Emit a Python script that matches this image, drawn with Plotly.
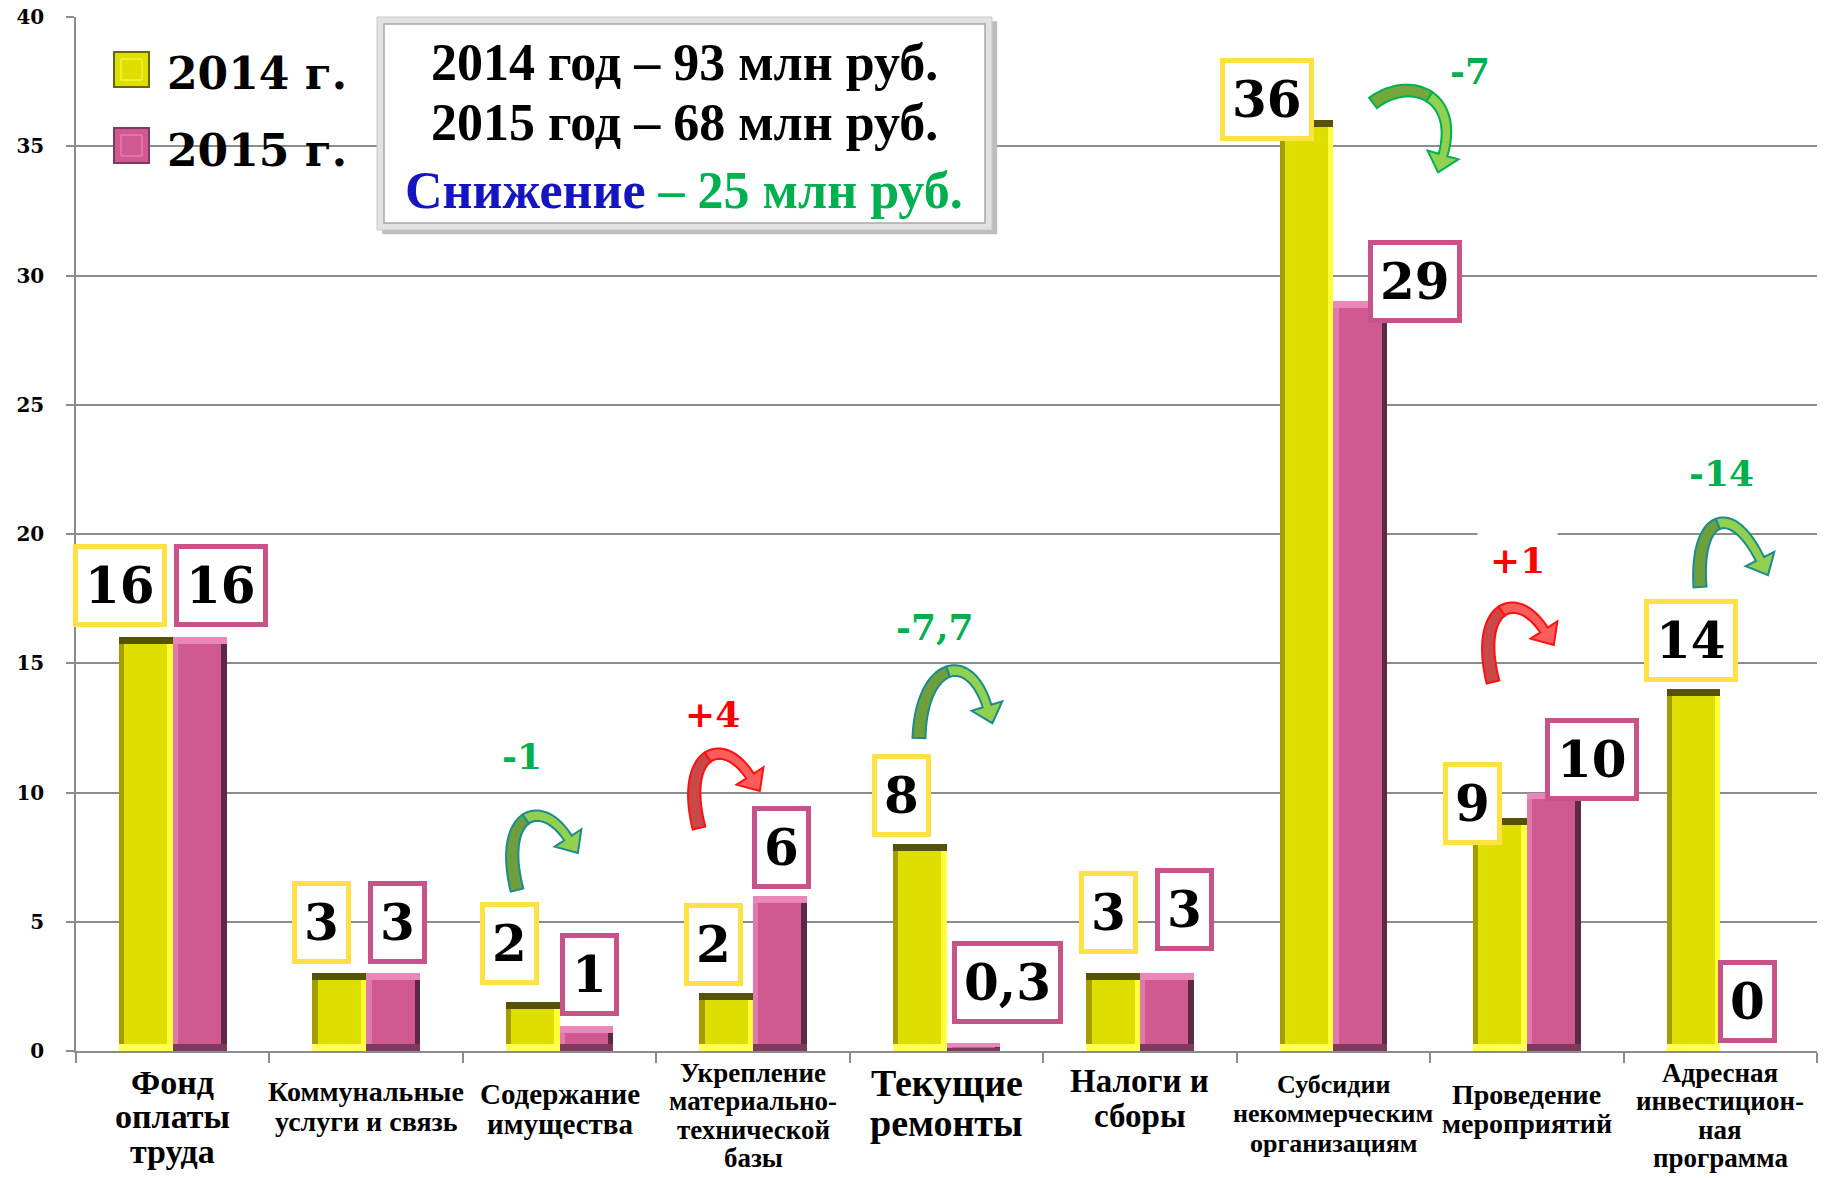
import numpy as np
import plotly.graph_objects as go

# ---------------- data ----------------
categories = ["Фонд оплаты труда", "Коммунальные услуги и связь", "Содержание имущества",
              "Укрепление материально-технической базы", "Текущие ремонты", "Налоги и сборы",
              "Субсидии некоммерческим организациям", "Проведение мероприятий",
              "Адресная инвестиционная программа"]
category_lines = [["Фонд", "оплаты", "труда"], ["Коммунальные", "услуги и связь"],
                  ["Содержание", "имущества"], ["Укрепление", "материально-", "технической", "базы"],
                  ["Текущие", "ремонты"], ["Налоги и", "сборы"],
                  ["Субсидии", "некоммерческим", "организациям"], ["Проведение", "мероприятий"],
                  ["Адресная", "инвестицион-", "ная", "программа"]]
values_2014 = [16, 3, 1.9, 2.25, 8, 3, 36, 9, 14]
values_2015 = [16, 3, 0.95, 6, 0.3, 3, 29, 10, 0]
labels_2014 = ["16", "3", "2", "2", "8", "3", "36", "9", "14"]
labels_2015 = ["16", "3", "1", "6", "0,3", "3", "29", "10", "0"]
changes = ["", "", "-1", "+4", "-7,7", "", "-7", "+1", "-14"]
change_up = [False, False, False, True, False, False, False, True, False]
series_names = ["2014 г.", "2015 г."]
summary_lines = ["2014 год – 93 млн руб.", "2015 год – 68 млн руб."]
summary_drop = ["Снижение", " – 25 млн руб."]
y_ticks = [0, 5, 10, 15, 20, 25, 30, 35, 40]

# ---------------- styles / layout helpers ----------------
W, H = 1830, 1178
ML, MR, MT, MB = 76, 13, 17, 127
PW, PH = W - ML - MR, H - MT - MB
YEL, YEL_L, YEL_R, YEL_T, YEL_B = "#dede00", "#a39d00", "#ffff3c", "#55520a", "#ffff55"
PNK, PNK_L, PNK_R, PNK_T, PNK_B = "#d0598f", "#e07aae", "#5c2a44", "#ea86ba", "#7d3a5c"
GRID = "#8c8c8c"
label_sizes = [34, 28, 29, 27, 38, 33, 26, 28, 27]
label_first_y = [1082, 1091, 1094, 1073, 1083, 1081, 1084, 1094, 1073]
label_step = [34.5, 30.3, 30.3, 28.3, 39.7, 35, 29.8, 29.2, 28.3]
lab_dx_2014 = [-26, -18, -23, -13, -18, -5, -40, -27, -2]
lab_gap_2014 = [10, 9, 17, 7, 7, 19, -21, -27, 7]
lab_dx_2015 = [21, 4, 3, 2, 34, 18, 55, 38, 0]
lab_gap_2015 = [10, 9, 10, 7, 19, 22, -22, -8, 8]
change_pos = {2: (522, 756), 3: (712, 714), 4: (935, 627), 6: (1470, 71), 7: (1517, 560), 8: (1721, 473)}
# arrow bezier control points (pixels) per change
arrow_ctrl = {
    2: [(517, 890), (498, 815), (540, 795), (568, 838)],
    3: [(699, 828), (680, 753), (722, 733), (750, 776)],
    4: [(919, 738), (921, 663), (969, 648), (987, 706)],
    6: [(1373, 103), (1410, 75), (1460, 95), (1443, 155)],
    7: [(1493, 682), (1474, 607), (1516, 587), (1544, 630)],
    8: [(1700, 587), (1695, 517), (1730, 499), (1760, 559)],
}


def pp(X, Y):
    return (X - ML) / PW, (H - MB - Y) / PH


xs = list(range(len(categories)))
BW = 0.278
E = 0.028
TB = 0.27

fig = go.Figure()


def add_bar_set(vals, off, face, left, right, top, bottom):
    common = dict(x=categories, hoverinfo="skip", showlegend=False)
    fig.add_trace(go.Bar(y=vals, width=BW, offset=off, marker=dict(color=face, line=dict(width=0)), **common))
    fig.add_trace(go.Bar(y=vals, width=E, offset=off, marker=dict(color=left, line=dict(width=0)), **common))
    fig.add_trace(go.Bar(y=vals, width=E, offset=off + BW - E, marker=dict(color=right, line=dict(width=0)), **common))
    tb = [min(TB, v * 0.45) for v in vals]
    fig.add_trace(go.Bar(y=tb, base=[v - t for v, t in zip(vals, tb)], width=BW, offset=off,
                         marker=dict(color=top, line=dict(width=0)), **common))
    fig.add_trace(go.Bar(y=tb, base=[0] * len(vals), width=BW, offset=off,
                         marker=dict(color=bottom, line=dict(width=0)), **common))


add_bar_set(values_2014, -BW, YEL, YEL_L, YEL_R, YEL_T, YEL_B)
add_bar_set(values_2015, 0.0, PNK, PNK_L, PNK_R, PNK_T, PNK_B)

annotations = []
# value label boxes
for i in xs:
    annotations.append(dict(x=i - BW / 2, y=values_2014[i], xref="x", yref="y", text=labels_2014[i],
                            showarrow=False, yanchor="bottom", xanchor="center",
                            xshift=lab_dx_2014[i], yshift=lab_gap_2014[i],
                            font=dict(family="DejaVu Serif", size=50, color="black", weight="bold"),
                            bgcolor="white", bordercolor="#ffe045", borderwidth=5, borderpad=7))
    annotations.append(dict(x=i + BW / 2, y=values_2015[i], xref="x", yref="y", text=labels_2015[i],
                            showarrow=False, yanchor="bottom", xanchor="center",
                            xshift=lab_dx_2015[i], yshift=lab_gap_2015[i],
                            font=dict(family="DejaVu Serif", size=50, color="black", weight="bold"),
                            bgcolor="white", bordercolor="#c8528a", borderwidth=5, borderpad=7))

# category labels (one annotation per line, under the axis)
for i, lines in enumerate(category_lines):
    for j, ln in enumerate(lines):
        _, yy = pp(0, label_first_y[i] + j * label_step[i])
        annotations.append(dict(x=i, y=yy, xref="x", yref="paper", text=f"<b>{ln}</b>", showarrow=False,
                                xanchor="center", yanchor="middle",
                                font=dict(family="Liberation Serif", size=label_sizes[i], color="black")))

# change texts
for i, txt in enumerate(changes):
    if not txt:
        continue
    px, py = pp(*change_pos[i])
    ann = dict(x=px, y=py, xref="paper", yref="paper", text=txt, showarrow=False,
               xanchor="center", yanchor="middle",
               font=dict(family="DejaVu Serif", size=36, weight="bold",
                         color="#ff0000" if change_up[i] else "#00b050"))
    if i == 7:
        ann.update(bgcolor="white", borderpad=12)
    annotations.append(ann)

shapes = []


def arrow_shapes(ctrl, dark, light, edge, w0=13, w1=9, hl=18, hw=16, n=40):
    P = [np.array(p, dtype=float) for p in ctrl]
    t = np.linspace(0, 1, n)[:, None]
    pts = (1 - t) ** 3 * P[0] + 3 * (1 - t) ** 2 * t * P[1] + 3 * (1 - t) * t ** 2 * P[2] + t ** 3 * P[3]
    d = 3 * (1 - t) ** 2 * (P[1] - P[0]) + 6 * (1 - t) * t * (P[2] - P[1]) + 3 * t ** 2 * (P[3] - P[2])
    d = d / np.linalg.norm(d, axis=1)[:, None]
    nrm = np.stack([-d[:, 1], d[:, 0]], axis=1)
    w = (w0 + (w1 - w0) * t) / 2
    A = pts + nrm * w
    B = pts - nrm * w
    k = n // 2
    tip = pts[-1] + d[-1] * hl
    hA = pts[-1] + nrm[-1] * hw
    hB = pts[-1] - nrm[-1] * hw

    def path(points):
        conv = [pp(x, y) for x, y in points]
        return "M " + " L ".join(f"{a:.5f},{b:.5f}" for a, b in conv) + " Z"

    poly1 = list(A[:k + 1]) + list(B[:k + 1][::-1])
    poly2 = list(A[k:]) + [hA, tip, hB] + list(B[k:][::-1])
    res = []
    for poly, col in ((poly1, dark), (poly2, light)):
        res.append(dict(type="path", xref="paper", yref="paper", path=path(poly),
                        fillcolor=col, line=dict(color=edge, width=2)))
    return res


for i, txt in enumerate(changes):
    if not txt:
        continue
    if change_up[i]:
        shapes += arrow_shapes(arrow_ctrl[i], "#c94848", "#ff5c5c", "#ff1010")
    elif i == 6:
        shapes += arrow_shapes(arrow_ctrl[i], "#74a83c", "#92d050", "#00b050")
    else:
        shapes += arrow_shapes(arrow_ctrl[i], "#6e9f3c", "#92d050", "#1a8c8c")

# summary box
x0, y0 = pp(377, 17)
x1, y1 = pp(992, 230)
shapes.append(dict(type="rect", xref="paper", yref="paper", x0=x0 + 0.003, y0=y1 - 0.004, x1=x1 + 0.003, y1=y0 - 0.004,
                   fillcolor="#bdbdbd", line=dict(width=0)))
shapes.append(dict(type="rect", xref="paper", yref="paper", x0=x0, y0=y1, x1=x1, y1=y0,
                   fillcolor="#e2e2e2", line=dict(color="#c8c8c8", width=1)))
ix0, iy0 = pp(384, 24)
ix1, iy1 = pp(985, 223)
shapes.append(dict(type="rect", xref="paper", yref="paper", x0=ix0, y0=iy1, x1=ix1, y1=iy0,
                   fillcolor="white", line=dict(color="#a8a8a8", width=1.5)))
for j, line in enumerate(summary_lines):
    cx, cy = pp(684, [62, 123][j])
    annotations.append(dict(x=cx, y=cy, xref="paper", yref="paper", text=line, showarrow=False,
                            xanchor="center", yanchor="middle",
                            font=dict(family="Liberation Serif", size=52, color="black", weight="bold")))
cx, cy = pp(684, 190)
annotations.append(dict(x=cx, y=cy, xref="paper", yref="paper",
                        text=f"<span style='color:#1414c0'>{summary_drop[0]}</span>"
                             f"<span style='color:#00b050'>{summary_drop[1]}</span>",
                        showarrow=False, xanchor="center", yanchor="middle",
                        font=dict(family="Liberation Serif", size=52, color="black", weight="bold")))

# legend
for j, (name, face, dk, lt) in enumerate(((series_names[0], YEL, "#6b6600", "#ffff50"),
                                          (series_names[1], PNK, "#7d3a5c", "#f08cc0"))):
    top = [52, 128][j]
    a0, b0 = pp(114, top)
    a1, b1 = pp(149, top + 35)
    shapes.append(dict(type="rect", xref="paper", yref="paper", x0=a0, y0=b1, x1=a1, y1=b0,
                       fillcolor=face, line=dict(color=dk, width=2)))
    c0, d0 = pp(121, top + 7)
    c1, d1 = pp(142, top + 28)
    shapes.append(dict(type="rect", xref="paper", yref="paper", x0=c0, y0=d1, x1=c1, y1=d0,
                       fillcolor=face, line=dict(color=lt, width=1)))
    tx, ty = pp(165, top + 22)
    annotations.append(dict(x=tx, y=ty, xref="paper", yref="paper", text=name, showarrow=False,
                            xanchor="left", yanchor="middle",
                            font=dict(family="DejaVu Serif", size=44, color="black", weight="bold")))

fig.update_layout(
    width=W, height=H,
    margin=dict(l=ML, r=MR, t=MT, b=MB, pad=0, autoexpand=False),
    paper_bgcolor="white", plot_bgcolor="white",
    barmode="overlay", bargap=0,
    showlegend=False,
    annotations=annotations, shapes=shapes,
    xaxis=dict(type="category", range=[-0.5, 8.5], tickmode="array", tickvals=categories,
               ticktext=categories, showticklabels=False, automargin=False,
               tickson="boundaries", ticks="outside", ticklen=10,
               tickcolor=GRID, tickwidth=1.5, showline=True, linecolor=GRID, linewidth=2,
               showgrid=False),
    yaxis=dict(range=[0, 40], tickvals=y_ticks, ticktext=[str(v) for v in y_ticks], automargin=False,
               showgrid=True, gridcolor=GRID, gridwidth=1.5, zeroline=False,
               showline=True, linecolor=GRID, linewidth=1.5, ticks="outside", ticklen=8,
               tickcolor=GRID, tickwidth=1.5, ticklabelstandoff=18,
               tickfont=dict(family="DejaVu Serif", size=20, color="black", weight="bold")),
)

fig.write_html("out.html", config={"displayModeBar": False},
               post_script="document.body.style.margin='0';")
